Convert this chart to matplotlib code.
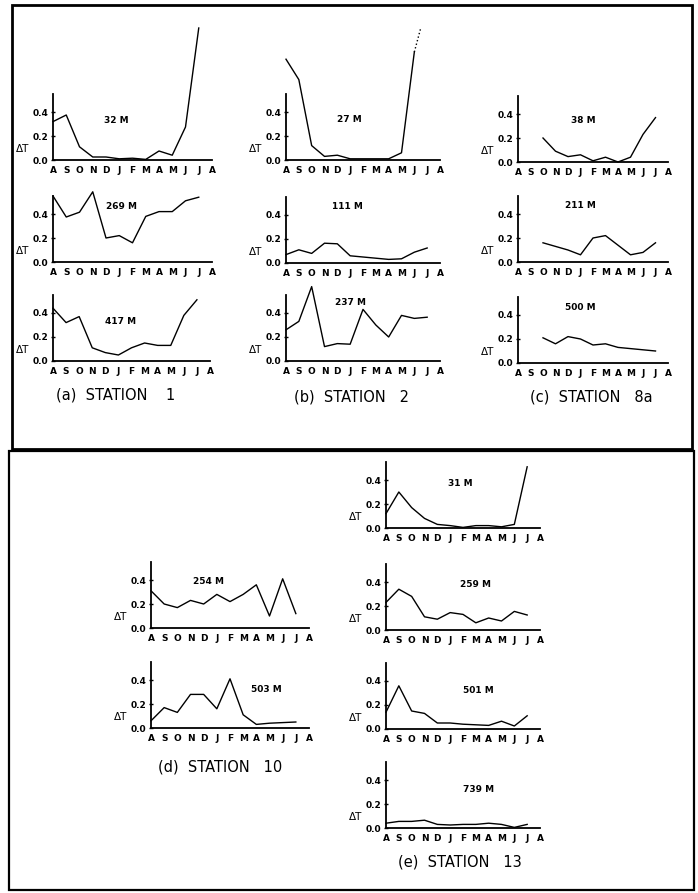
import numpy as np
import matplotlib
matplotlib.use('Agg')
import matplotlib.pyplot as plt
from matplotlib.patches import Rectangle

months = ['A', 'S', 'O', 'N', 'D', 'J', 'F', 'M', 'A', 'M', 'J', 'J', 'A']

# station 1
st1_32 = [0.32, 0.375, 0.11, 0.025, 0.025, 0.01, 0.015, 0.005, 0.075, 0.04, 0.275, 1.1]
st1_269 = [0.55, 0.375, 0.415, 0.585, 0.2, 0.22, 0.16, 0.38, 0.42, 0.42, 0.51, 0.54]
st1_417 = [0.44, 0.32, 0.37, 0.11, 0.07, 0.05, 0.11, 0.15, 0.13, 0.13, 0.38, 0.51]

# station 2 (27 m ends with a dotted extension)
st2_27 = [0.84, 0.67, 0.12, 0.03, 0.04, 0.01, 0.01, 0.01, 0.01, 0.06, 0.9]
st2_27_dot_x = [10, 10.5]
st2_27_dot = [0.9, 1.1]
st2_111 = [0.07, 0.11, 0.08, 0.165, 0.16, 0.06, 0.05, 0.04, 0.03, 0.035, 0.09, 0.125]
st2_237 = [0.26, 0.33, 0.62, 0.12, 0.145, 0.14, 0.43, 0.3, 0.2, 0.38, 0.355, 0.365]

# station 8a (records start in October)
st8a_start = 2
st8a_38 = [0.2, 0.09, 0.045, 0.06, 0.01, 0.04, 0.0, 0.04, 0.23, 0.37]
st8a_211 = [0.16, 0.13, 0.10, 0.06, 0.2, 0.22, 0.14, 0.06, 0.08, 0.16]
st8a_500 = [0.21, 0.16, 0.22, 0.2, 0.15, 0.16, 0.13, 0.12, 0.11, 0.1]

# station 10
st10_254 = [0.31, 0.2, 0.17, 0.23, 0.2, 0.28, 0.22, 0.28, 0.36, 0.1, 0.41, 0.12]
st10_503 = [0.06, 0.17, 0.13, 0.28, 0.28, 0.16, 0.41, 0.11, 0.03, 0.04, 0.045, 0.05]

# station 13
st13_31 = [0.12, 0.3, 0.17, 0.08, 0.03, 0.02, 0.005, 0.02, 0.02, 0.01, 0.03, 0.51]
st13_259 = [0.23, 0.34, 0.28, 0.11, 0.09, 0.145, 0.13, 0.06, 0.1, 0.075, 0.155, 0.125]
st13_501 = [0.14, 0.36, 0.15, 0.13, 0.05, 0.05, 0.04, 0.035, 0.03, 0.065, 0.025, 0.11]
st13_739 = [0.04, 0.055, 0.055, 0.065, 0.03, 0.025, 0.03, 0.03, 0.04, 0.03, 0.005, 0.03]

W, H = 698, 893
fig = plt.figure(figsize=(W / 100, H / 100), dpi=100)

YTOP = 0.55
SCALE = 120  # pixels per unit of dT


def panel(L, R, y0, depth, vals, lab_x, lab_y, start=0):
    ax = fig.add_axes([L / W, 1 - y0 / H, (R - L) / W, YTOP * SCALE / H])
    ax.set_xlim(0, 12)
    ax.set_ylim(0, YTOP)
    for s in ['top', 'right']:
        ax.spines[s].set_visible(False)
    for s in ['left', 'bottom']:
        ax.spines[s].set_linewidth(1.3)
    ax.set_xticks(range(13))
    ax.set_xticklabels(months, fontsize=6.5, fontweight='bold')
    ax.set_yticks([0, 0.2, 0.4])
    ax.set_yticklabels(['0.0', '0.2', '0.4'], fontsize=6.5, fontweight='bold')
    ax.tick_params(axis='x', length=0, pad=4)
    ax.tick_params(axis='y', length=3, width=1, direction='inout', pad=2)
    x = np.arange(len(vals)) + start
    ax.plot(x, vals, color='black', lw=1.0, clip_on=False)
    ax.text(lab_x, lab_y, depth, fontsize=6.5, fontweight='bold', ha='center', va='center')
    ax.annotate('\u0394T', xy=(0, 0.09), xycoords=ax.get_yaxis_transform(),
                xytext=(-22, 0), textcoords='offset points', fontsize=7.5,
                ha='center', va='center')
    return ax


# station 1
panel(53, 212, 160, '32 M', st1_32, 4.8, 0.33)
panel(53, 212, 262, '269 M', st1_269, 5.2, 0.46)
panel(53, 210, 361, '417 M', st1_417, 5.2, 0.33)
# station 2
ax = panel(286, 440, 160, '27 M', st2_27, 4.9, 0.34)
ax.plot(st2_27_dot_x, st2_27_dot, color='black', lw=1.0, ls=':', clip_on=False)
panel(286, 440, 263, '111 M', st2_111, 4.8, 0.47)
panel(286, 440, 361, '237 M', st2_237, 5.0, 0.49)
# station 8a
panel(518, 668, 162, '38 M', st8a_38, 5.2, 0.35, start=st8a_start)
panel(518, 668, 262, '211 M', st8a_211, 5.0, 0.47, start=st8a_start)
panel(518, 668, 363, '500 M', st8a_500, 5.0, 0.46, start=st8a_start)
# station 10
panel(151, 309, 628, '254 M', st10_254, 4.4, 0.39)
panel(151, 309, 728, '503 M', st10_503, 8.8, 0.32)
# station 13
panel(386, 540, 528, '31 M', st13_31, 5.8, 0.37)
panel(386, 540, 630, '259 M', st13_259, 7.0, 0.38)
panel(386, 540, 729, '501 M', st13_501, 7.2, 0.32)
panel(386, 540, 828, '739 M', st13_739, 7.2, 0.32)

captions = [('(a)  STATION    1', 116, 395), ('(b)  STATION   2', 351, 397),
            ('(c)  STATION   8a', 591, 397), ('(d)  STATION   10', 220, 767),
            ('(e)  STATION   13', 460, 862)]
for txt, cx, cy in captions:
    fig.text(cx / W, 1 - cy / H, txt, fontsize=10.5, ha='center', va='center')

# the two frames
fig.add_artist(Rectangle((12 / W, 1 - 449 / H), 680 / W, 444 / H, transform=fig.transFigure,
                         fill=False, lw=2.0, ec='black'))
fig.add_artist(Rectangle((9 / W, 1 - 890 / H), 685 / W, 439 / H, transform=fig.transFigure,
                         fill=False, lw=1.6, ec='black'))

fig.savefig('out.png', dpi=100)
